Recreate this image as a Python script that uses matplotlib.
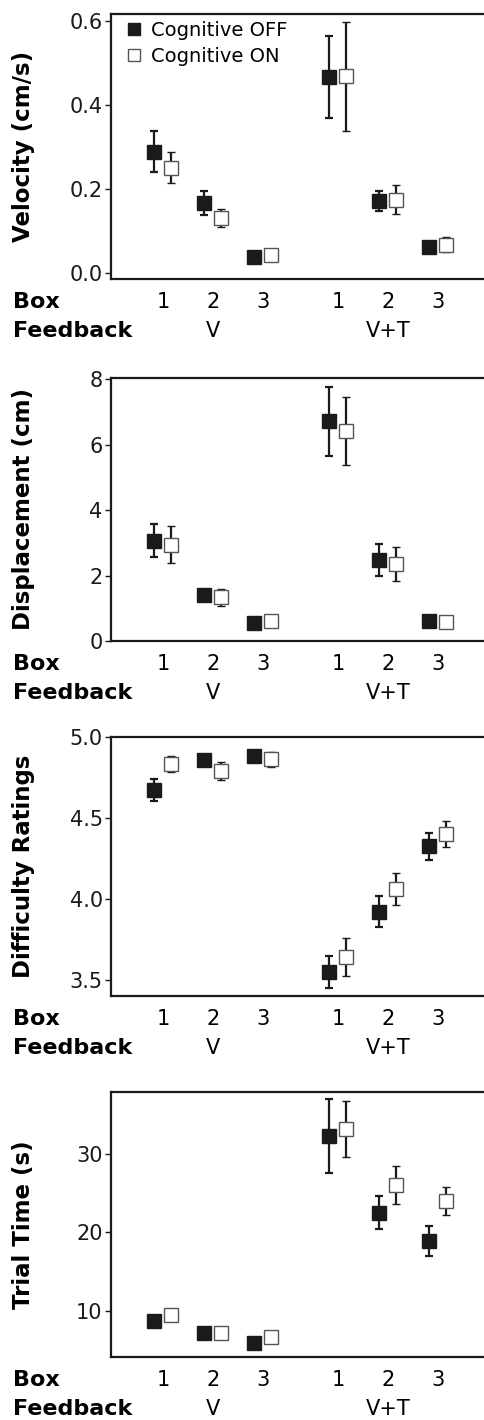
import matplotlib.pyplot as plt
from matplotlib.lines import Line2D

plt.rcParams['font.family'] = ['DejaVu Sans']

box_labels = ['1', '2', '3', '1', '2', '3']
x_pos = [1, 2, 3, 4.5, 5.5, 6.5]
feedback_labels = ['V', 'V+T']
feedback_pos = [2, 5.5]

velocity_off = [0.289, 0.166, 0.038, 0.466, 0.171, 0.062]
velocity_off_err = [0.050, 0.028, 0.005, 0.098, 0.025, 0.012]
velocity_on = [0.250, 0.131, 0.042, 0.469, 0.174, 0.067]
velocity_on_err = [0.037, 0.021, 0.005, 0.130, 0.034, 0.018]

displacement_off = [3.07, 1.40, 0.55, 6.72, 2.49, 0.60]
displacement_off_err = [0.50, 0.10, 0.05, 1.05, 0.49, 0.05]
displacement_on = [2.95, 1.33, 0.60, 6.42, 2.36, 0.57]
displacement_on_err = [0.57, 0.27, 0.05, 1.03, 0.52, 0.05]

difficulty_off = [4.670, 4.860, 4.885, 3.547, 3.922, 4.324]
difficulty_off_err = [0.068, 0.02, 0.02, 0.10, 0.098, 0.085]
difficulty_on = [4.835, 4.790, 4.862, 3.640, 4.062, 4.402]
difficulty_on_err = [0.050, 0.054, 0.046, 0.118, 0.097, 0.081]

trial_off = [8.74, 7.18, 6.00, 32.2, 22.5, 18.9]
trial_off_err = [0.3, 0.3, 0.3, 4.7, 2.1, 1.85]
trial_on = [9.49, 7.18, 6.76, 33.1, 26.0, 24.0]
trial_on_err = [0.3, 0.3, 0.3, 3.5, 2.4, 1.8]

W, H = 485, 1420
fig = plt.figure(figsize=(W / 100, H / 100), dpi=100)

panels = [
    ('Velocity (cm/s)', velocity_off, velocity_off_err, velocity_on, velocity_on_err,
     (14, 279), (-0.015, 0.617), [0.0, 0.2, 0.4, 0.6], '%.1f'),
    ('Displacement (cm)', displacement_off, displacement_off_err, displacement_on, displacement_on_err,
     (378, 641), (0, 8.04), [0, 2, 4, 6, 8], '%d'),
    ('Difficulty Ratings', difficulty_off, difficulty_off_err, difficulty_on, difficulty_on_err,
     (737, 996), (3.4, 5.0), [3.5, 4.0, 4.5, 5.0], '%.1f'),
    ('Trial Time (s)', trial_off, trial_off_err, trial_on, trial_on_err,
     (1092, 1357), (4.2, 37.8), [10, 20, 30], '%d'),
]

left_px = 111
offset = 0.17

for i, (ylabel, off, off_err, on, on_err, (top, bottom), ylim, yticks, fmt) in enumerate(panels):
    ax = fig.add_axes([left_px / W, 1 - bottom / H, (W - left_px) / W, (bottom - top) / H])
    xo = [x - offset for x in x_pos]
    xn = [x + offset for x in x_pos]
    ax.errorbar(xo, off, yerr=off_err, fmt='s', color='#1a1a1a', ms=9.5,
                mfc='#1a1a1a', mec='#1a1a1a', elinewidth=1.6, capsize=2.6, capthick=1.6)
    ax.errorbar(xn, on, yerr=on_err, fmt='s', color='#1a1a1a', ms=9.5,
                mfc='white', mec='#555555', mew=1.0, elinewidth=1.6, capsize=2.6, capthick=1.6)
    ax.set_xlim(-0.04, 7.44)
    ax.set_ylim(*ylim)
    ax.set_yticks(yticks)
    ax.set_yticklabels([fmt % t for t in yticks])
    ax.set_xticks([])
    ax.tick_params(axis='y', labelsize=15, length=4, width=1, pad=2, colors='#1a1a1a')
    for s in ['left', 'top', 'bottom']:
        ax.spines[s].set_linewidth(1.6)
        ax.spines[s].set_color('#1a1a1a')
    ax.spines['right'].set_visible(False)
    ax.set_ylabel(ylabel, fontsize=16.5, fontweight='bold', va='center')
    ax.yaxis.set_label_coords((24 - left_px) / (W - left_px), 0.5)

    for x, lab in zip(x_pos, box_labels):
        ax.annotate(lab, xy=(x, 0), xycoords=ax.get_xaxis_transform(), xytext=(0, -23),
                    textcoords='offset pixels', ha='center', va='center', fontsize=15)
    for x, lab in zip(feedback_pos, feedback_labels):
        ax.annotate(lab, xy=(x, 0), xycoords=ax.get_xaxis_transform(), xytext=(0, -52),
                    textcoords='offset pixels', ha='center', va='center', fontsize=15)
    ax.annotate('Box', xy=(13, 0), xycoords=('figure pixels', 'axes fraction'), xytext=(0, -23),
                textcoords='offset pixels', ha='left', va='center', fontsize=16, fontweight='bold')
    ax.annotate('Feedback', xy=(13, 0), xycoords=('figure pixels', 'axes fraction'), xytext=(0, -52),
                textcoords='offset pixels', ha='left', va='center', fontsize=16, fontweight='bold')

    if i == 0:
        handles = [
            Line2D([], [], ls='none', marker='s', ms=9, mfc='#1a1a1a', mec='#1a1a1a'),
            Line2D([], [], ls='none', marker='s', ms=9, mfc='white', mec='#555555', mew=1.0),
        ]
        ax.legend(handles, ['Cognitive OFF', 'Cognitive ON'], loc='upper left',
                  bbox_to_anchor=((126 - left_px) / (W - left_px), 1 - (21 - top) / (bottom - top)),
                  frameon=False, fontsize=14, handlelength=0.8, handletextpad=0.5,
                  borderpad=0, borderaxespad=0, labelspacing=0.35)

fig.savefig('out.png', dpi=100)
